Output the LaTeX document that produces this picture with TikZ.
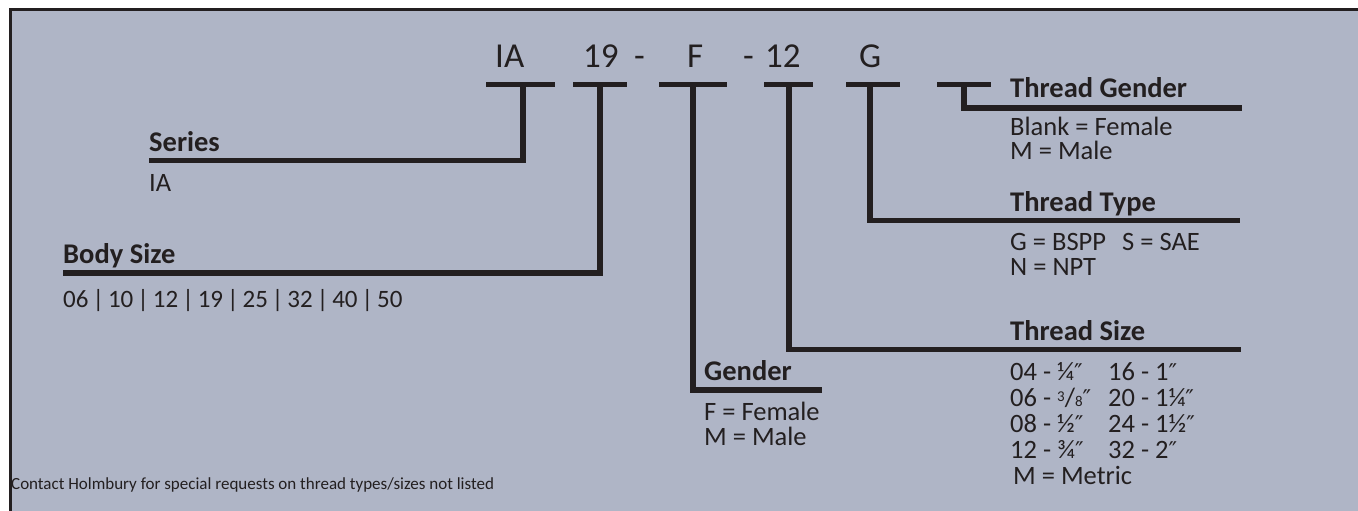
\documentclass[tikz,border=0pt]{standalone}
\usepackage{fontspec}
\setmainfont{Carlito}
\newfontfamily\symfont{DejaVu Sans}
\definecolor{panel}{RGB}{175,181,198}
\definecolor{ink}{RGB}{35,31,32}
\tikzset{
  head/.style={anchor=base west, inner sep=0pt, text=ink, font=\bfseries\fontsize{28.5}{32}\selectfont},
  txt/.style={anchor=base west, inner sep=0pt, text=ink, font=\fontsize{26.5}{30}\selectfont},
  codetxt/.style={anchor=base west, inner sep=0pt, text=ink, font=\fontsize{35}{40}\selectfont},
  note/.style={anchor=base west, inner sep=0pt, text=ink, font=\fontsize{17}{20}\selectfont},
  bar/.style={draw=ink, line width=5.5pt, line join=miter},
}
\newcommand{\inch}{{\symfont\fontsize{23}{26}\selectfont ″}}
\newcommand{\threeeighths}{\raisebox{5pt}{\fontsize{15}{15}\selectfont 3}/{\fontsize{15}{15}\selectfont 8}}
\begin{document}
\begin{tikzpicture}[x=1pt,y=-1pt]
    \useasboundingbox (0,0) rectangle (1358,511);
    % Panel with top and left border
    \fill[panel] (10,10) rectangle (1358,511);
    \draw[ink, line width=3pt] (10,511) -- (10,10) -- (1358,10);

    % Part number
    \node[codetxt] (cIA) at (495,67) {IA};
    \node[codetxt] (c19) at (583,67) {19};
    \node[codetxt] (dashA) at (634,67) {-};
    \node[codetxt] (cF) at (687,67) {F};
    \node[codetxt] (dashB) at (743,67) {-};
    \node[codetxt] (c12) at (765,67) {12};
    \node[codetxt] (cG) at (859,67) {G};

    % Bars under each part
    \foreach \l/\r/\s [count=\i] in {486/555/523, 573/627/600, 659/727/693, 764/813/789, 846/900/870, 937/991/964}{
        \coordinate (bl\i) at (\l,84.5);
        \coordinate (br\i) at (\r,84.5);
        \coordinate (bs\i) at (\s,84.5);
        \draw[bar] (bl\i) -- (br\i);
    }

    % Leader lines
    \coordinate (eSeries) at (149,160.5);
    \coordinate (eBody) at (63,273);
    \coordinate (eGender) at (822,390);
    \coordinate (eSize) at (1241,349.5);
    \coordinate (eType) at (1240,220.5);
    \coordinate (eTGender) at (1242,108);
    \draw[bar] (eSeries) -| (bs1);
    \draw[bar] (eBody) -| (bs2);
    \draw[bar] (bs3) |- (eGender);
    \draw[bar] (bs4) |- (eSize);
    \draw[bar] (bs5) |- (eType);
    \draw[bar] (bs6) |- (eTGender);

    % Series
    \node[head] (series) at (149,151) {Series};
    \node[txt] (seriesA) at (149,191) {IA};

    % Body size
    \node[head] (body) at (63,263) {Body Size};
    \node[txt, font=\fontsize{25}{28}\selectfont] (bodyA) at (63,307) {\spaceskip=0.16em\relax 06 | 10 | 12 | 19 | 25 | 32 | 40 | 50};

    % Gender
    \node[head] (gender) at (704,380) {Gender};
    \node[txt] (genderA) at (704,420) {F = Female};
    \node[txt] (genderB) at (704,445) {M = Male};

    % Thread gender
    \node[head] (tgender) at (1010,98) {Thread Gender};
    \node[txt] (tgenderA) at (1010,135) {Blank = Female};
    \node[txt] (tgenderB) at (1010,159) {M = Male};

    % Thread type
    \node[head] (ttype) at (1010,211) {Thread Type};
    \node[txt] (ttypeA) at (1010,250) {G = BSPP};
    \node[txt] (ttypeB) at (1122,250) {S = SAE};
    \node[txt] (ttypeC) at (1010,275) {N = NPT};

    % Thread size
    \node[head] (tsize) at (1010,340) {Thread Size};
    \foreach \a/\b [count=\i] in {{04 - ¼\inch}/{16 - 1\inch}, {06 - \threeeighths\inch}/{20 - 1¼\inch}, {08 - ½\inch}/{24 - 1½\inch}, {12 - ¾\inch}/{32 - 2\inch}}{
        \node[txt] (tsizeL\i) at (1010,354+26*\i) {\a};
        \node[txt] (tsizeR\i) at (1108,354+26*\i) {\b};
    }
    \node[txt] (tsizeM) at (1013,484) {M = Metric};

    % Footnote
    \node[note] (contact) at (11,489) {Contact Holmbury for special requests on thread types/sizes not listed};
\end{tikzpicture}
\end{document}
